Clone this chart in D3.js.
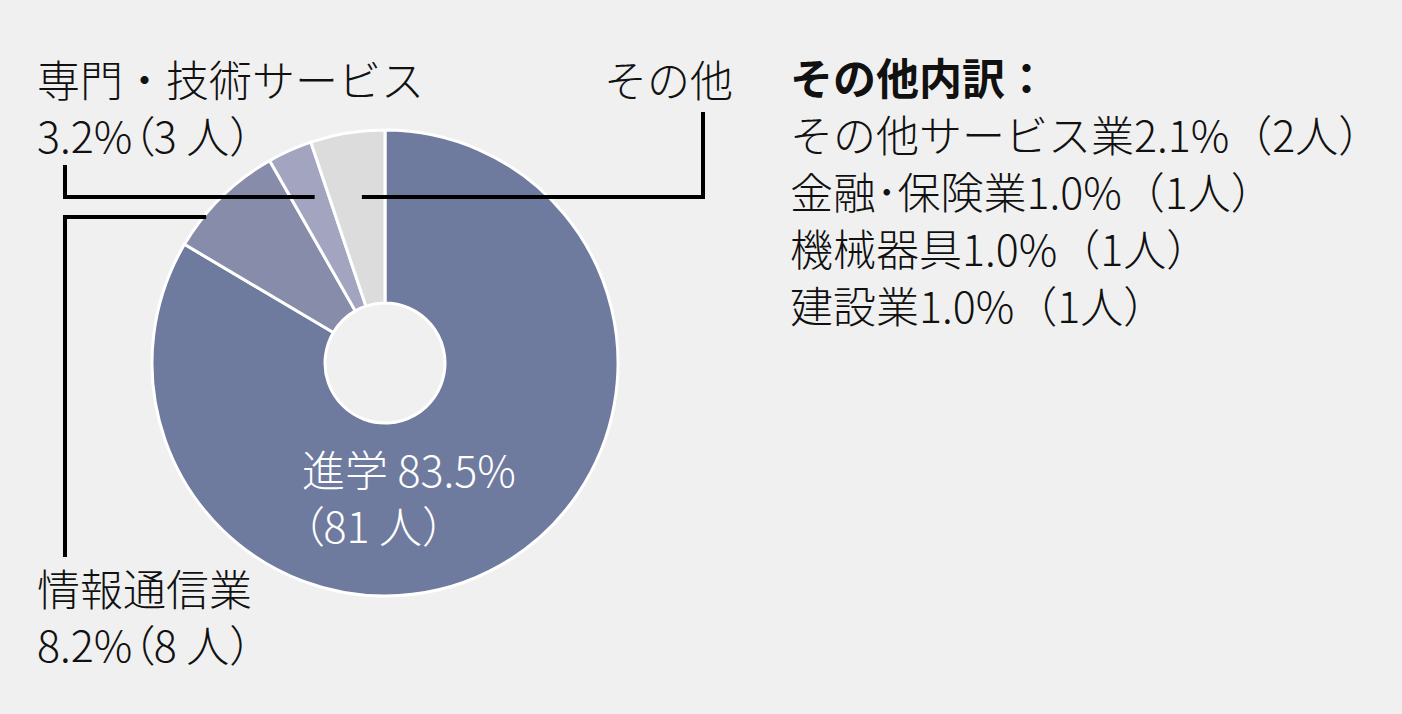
<!DOCTYPE html>
<html>
<head>
<meta charset="utf-8">
<script src="https://cdn.jsdelivr.net/npm/d3@7"></script>
<style>
  html, body { margin: 0; padding: 0; background: #f0f0f0; }
  svg { display: block; }
  text { font-family: "Noto Sans CJK JP", "Noto Sans", sans-serif; }
  .palt { font-feature-settings: "palt" 1; }
</style>
</head>
<body>
<div id="chart"></div>
<script>
// main breakdown
const categories = ["進学", "情報通信業", "専門・技術サービス", "その他"];
const counts = [81, 8, 3, 5];
const percents = ["83.5", "8.2", "3.2", "5.2"];
const colors = ["#6e7a9e", "#878cab", "#a3a5c0", "#dcdcdc"];

// その他 breakdown
const otherItems = ["その他サービス業", "金融･保険業", "機械器具", "建設業"];
const otherPercents = ["2.1", "1.0", "1.0", "1.0"];
const otherCounts = [2, 1, 1, 1];

var width = 1402, height = 714;
var cx = 385, cy = 363, outerR = 233, innerR = 60;

let svg = d3.select("#chart")
  .append("svg")
    .attr("width", width)
    .attr("height", height);

svg.append("rect")
  .attr("width", width)
  .attr("height", height)
  .attr("fill", "#f0f0f0");

let pie = d3.pie().sort(null).value(d => d.count);
let arc = d3.arc().innerRadius(innerR).outerRadius(outerR);

let data = categories.map((c, i) => ({ name: c, count: counts[i], pct: percents[i] }));
let arcs = pie(data);

let g = svg.append("g")
  .attr("transform", `translate(${cx},${cy})`);

g.selectAll("path")
  .data(arcs)
  .enter()
  .append("path")
    .attr("d", arc)
    .attr("fill", (d, i) => colors[i])
    .attr("stroke", "#ffffff")
    .attr("stroke-width", 3)
    .attr("stroke-linejoin", "round");

// point on a slice: fraction along its angle, at a given screen y
function pointAtY(a, t, y) {
  let ang = a.startAngle + (a.endAngle - a.startAngle) * t;
  let dy = y - cy;
  let r = -dy / Math.cos(ang);
  return [cx + r * Math.sin(ang), y];
}

// leader lines
let lines = svg.append("g")
  .attr("fill", "none")
  .attr("stroke", "#000")
  .attr("stroke-width", 4);

// その他
let pO = pointAtY(arcs[3], 0.5, 197);
lines.append("path")
  .attr("d", `M${pO[0] + 4},197 H703 V112`);

// 専門・技術サービス
let pS = pointAtY(arcs[2], 0.5, 197);
lines.append("path")
  .attr("d", `M65,165 V197 H${pS[0] + 4}`);

// 情報通信業
let pJ = pointAtY(arcs[1], 0.29, 217);
lines.append("path")
  .attr("d", `M${pJ[0]},217 H65 V557`);

// labels: each line is a list of [text, tight] parts
function label(x, y, rows, opts) {
  let t = svg.append("text")
    .attr("y", y)
    .style("font-size", (opts.size || 43) + "px")
    .style("font-weight", opts.weight || 300)
    .attr("fill", opts.color || "#111")
    .attr("text-anchor", opts.anchor || "start");
  rows.forEach((parts, i) => {
    parts.forEach((p, j) => {
      let s = t.append("tspan").text(p[0]);
      if (j === 0) s.attr("x", x).attr("dy", i === 0 ? 0 : (opts.lh || 56));
      if (p[1]) s.attr("class", "palt");
    });
  });
  return t;
}

function countRow(pct, n) {
  return [[pct + "%"], ["（", true], [n + " 人）"]];
}

label(37, 97, [[[data[2].name]], countRow(data[2].pct, data[2].count)], {});
label(37, 606, [[[data[1].name]], countRow(data[1].pct, data[1].count)], {});
label(733, 97, [[[data[3].name]]], { anchor: "end" });
label(302, 487, [[[`${data[0].name} ${data[0].pct}%`]], [["（", true], [data[0].count + " 人）"]]],
  { color: "#ffffff", lh: 56 });

// その他 breakdown list
svg.append("text")
  .attr("x", 790)
  .attr("y", 95)
  .style("font-size", "43px")
  .style("font-weight", 700)
  .attr("fill", "#111")
  .text("その他内訳：");

svg.selectAll(".other")
  .data(otherItems)
  .enter()
  .append("text")
    .attr("class", "other")
    .attr("x", 790)
    .attr("y", (d, i) => 152 + i * 57)
    .style("font-size", "43px")
    .style("font-weight", 300)
    .attr("fill", "#111")
    .text((d, i) => `${d}${otherPercents[i]}%（${otherCounts[i]}人）`);
</script>
</body>
</html>
